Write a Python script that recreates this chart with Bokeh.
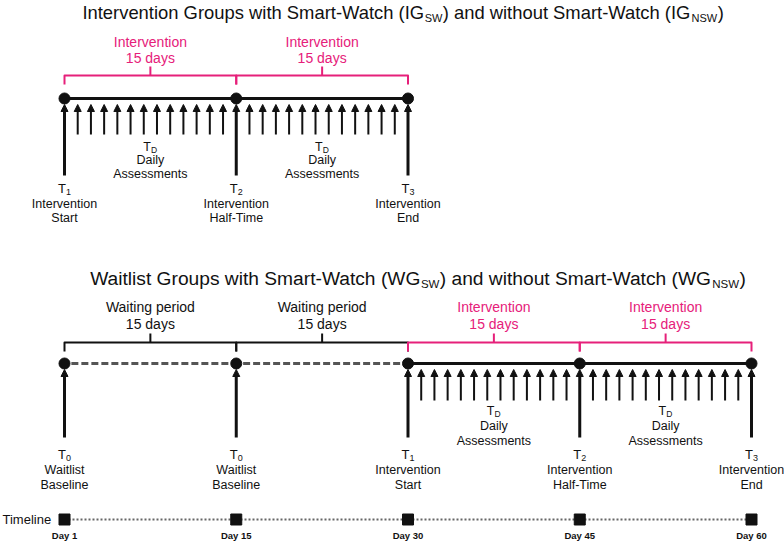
from bokeh.plotting import figure
from bokeh.models import Range1d, ColumnDataSource, Arrow, NormalHead
from bokeh.core.properties import value
from bokeh.embed import file_html
from bokeh.resources import INLINE

FONT = "Liberation Sans"
PINK = "#E6207A"
BLACK = "#111111"
GREY = "#555555"

# ---------------- data ----------------
# upper diagram: intervention groups
ig_slots = [0, 1, 2]
ig_sub = ["1", "2", "3"]
ig_name = ["Intervention", "Intervention", "Intervention"]
ig_phase = ["Start", "Half-Time", "End"]
ig_period_start = [0, 1]
ig_period_kind = ["Intervention", "Intervention"]

# lower diagram: waitlist groups
wg_slots = [0, 1, 2, 3, 4]
wg_sub = ["0", "0", "1", "2", "3"]
wg_name = ["Waitlist", "Waitlist", "Intervention", "Intervention", "Intervention"]
wg_phase = ["Baseline", "Baseline", "Start", "Half-Time", "End"]
wg_period_start = [0, 1, 2, 3]
wg_period_kind = ["Waiting period", "Waiting period", "Intervention", "Intervention"]

period_length = "15 days"
daily_per_period = 12
daily_label = ["Daily", "Assessments"]

timeline_slots = [0, 1, 2, 3, 4]
timeline_days = ["Day 1", "Day 15", "Day 30", "Day 45", "Day 60"]

# ---------------- layout ----------------
W, H = 784, 542
PX_PER_SLOT = 171.75
X0 = -64 / PX_PER_SLOT
X1 = X0 + W / PX_PER_SLOT

p = figure(width=W, height=H, output_backend="svg", toolbar_location=None,
           x_range=Range1d(X0, X1), y_range=Range1d(H, 0), min_border=0)
p.extra_x_ranges = {"px": Range1d(0, W)}
p.axis.visible = False
p.grid.visible = False
p.outline_line_color = None
p.background_fill_color = "white"
p.border_fill_color = "white"


def txt(x, y, text, size, color=BLACK, align="center", xr=None, bold=False, x_offset=0):
    kw = dict(x=x, y=y, text=text, text_font=value(FONT), text_font_size=size,
              text_color=color, text_align=align, text_baseline="middle",
              x_offset=x_offset)
    if bold:
        kw["text_font_style"] = "bold"
    if xr:
        kw["x_range_name"] = xr
    p.text(**kw)


def title(y, main_size, sub_size, pieces):
    # pieces: list of (text, anchor_px, align, is_sub)
    for t, ax, al, sub in pieces:
        if sub:
            txt([ax], [y + 5], [t], sub_size, align=al, xr="px")
        else:
            txt([ax], [y], [t], main_size, align=al, xr="px")


def arrows(xs, y_start, y_end, lw):
    src = ColumnDataSource(dict(x=xs, y0=[y_start] * len(xs), y1=[y_end] * len(xs)))
    p.add_layout(Arrow(end=NormalHead(size=7, fill_color=BLACK, line_color=BLACK, line_width=1),
                       x_start="x", y_start="y0", x_end="x", y_end="y1", source=src,
                       line_width=lw, line_color=BLACK))


def diagram(slots, subs, names, phases, pstart, pkind, Y):
    for a, k in zip(pstart, pkind):
        col = PINK if k == "Intervention" else BLACK
        mid = a + 0.5
        txt([mid, mid], [Y["lab1"], Y["lab2"]], [k, period_length], "14px", color=col)
        b = Y["brace"]
        p.line([a, a, a + 1, a + 1], [b + 9, b, b, b + 9], line_color=col, line_width=2,
               line_join="round")
        p.line([mid, mid], [b, b - 9], line_color=col, line_width=2)
        if k == "Intervention":
            p.line([a, a + 1], [Y["line"]] * 2, line_color=BLACK, line_width=3)
            xs = [a + i / (daily_per_period + 1) for i in range(1, daily_per_period + 1)]
            arrows(xs, Y["sbot"], Y["stop"], 2)
            txt([mid], [Y["td"][0]], ["T"], "12.5px", align="right", x_offset=0.5)
            txt([mid], [Y["td"][0] + 3], ["D"], "8.5px", align="left", x_offset=0.5)
            txt([mid, mid], Y["td"][1:], daily_label, "12.5px")
        else:
            p.line([a + 0.04, a + 0.96], [Y["line"]] * 2, line_color=GREY, line_width=3,
                   line_dash="7 3")
    arrows(slots, Y["bbot"], Y["line"] + 6, 3)
    p.scatter(slots, [Y["line"]] * len(slots), marker="circle", size=11,
              fill_color=BLACK, line_color=BLACK)
    n = len(slots)
    txt(slots, [Y["ms"][0]] * n, ["T"] * n, "13px", align="right", x_offset=1.5)
    txt(slots, [Y["ms"][0] + 3] * n, subs, "9px", align="left", x_offset=1.5)
    txt(slots, [Y["ms"][1]] * n, names, "12.5px")
    txt(slots, [Y["ms"][2]] * n, phases, "12.5px")


# titles
title(12, "18.4px", "11px",
      [("Intervention Groups with Smart-Watch (IG", 423.6, "right", False),
       ("SW", 424.2, "left", True),
       (") and without Smart-Watch (IG", 442.2, "left", False),
       ("NSW", 691, "left", True),
       (")", 717.2, "left", False)])
title(278, "19.2px", "11.5px",
      [("Waitlist Groups with Smart-Watch (WG", 419.8, "right", False),
       ("SW", 420.4, "left", True),
       (") and without Smart-Watch (WG", 439.3, "left", False),
       ("NSW", 711.8, "left", True),
       (")", 739, "left", False)])

diagram(ig_slots, ig_sub, ig_name, ig_phase, ig_period_start, ig_period_kind,
        dict(lab1=41, lab2=57, brace=75, line=98, stop=104, sbot=134, bbot=175,
             td=[146, 159, 173], ms=[188, 203, 217]))
diagram(wg_slots, wg_sub, wg_name, wg_phase, wg_period_start, wg_period_kind,
        dict(lab1=306, lab2=323, brace=342, line=363, stop=369, sbot=400, bbot=437,
             td=[410, 425, 440], ms=[454, 469, 484]))

# timeline
TY = 519
txt([2], [TY], ["Timeline"], "13px", align="left", xr="px")
p.line([timeline_slots[0], timeline_slots[-1]], [TY, TY], line_color="#666666",
       line_width=2, line_dash="2 2")
p.scatter(timeline_slots, [TY] * len(timeline_slots), marker="square", size=11,
          fill_color=BLACK, line_color=BLACK)
txt(timeline_slots, [535] * len(timeline_slots), timeline_days, "9.5px", bold=True)

open("out.html", "w").write(file_html(p, INLINE))
